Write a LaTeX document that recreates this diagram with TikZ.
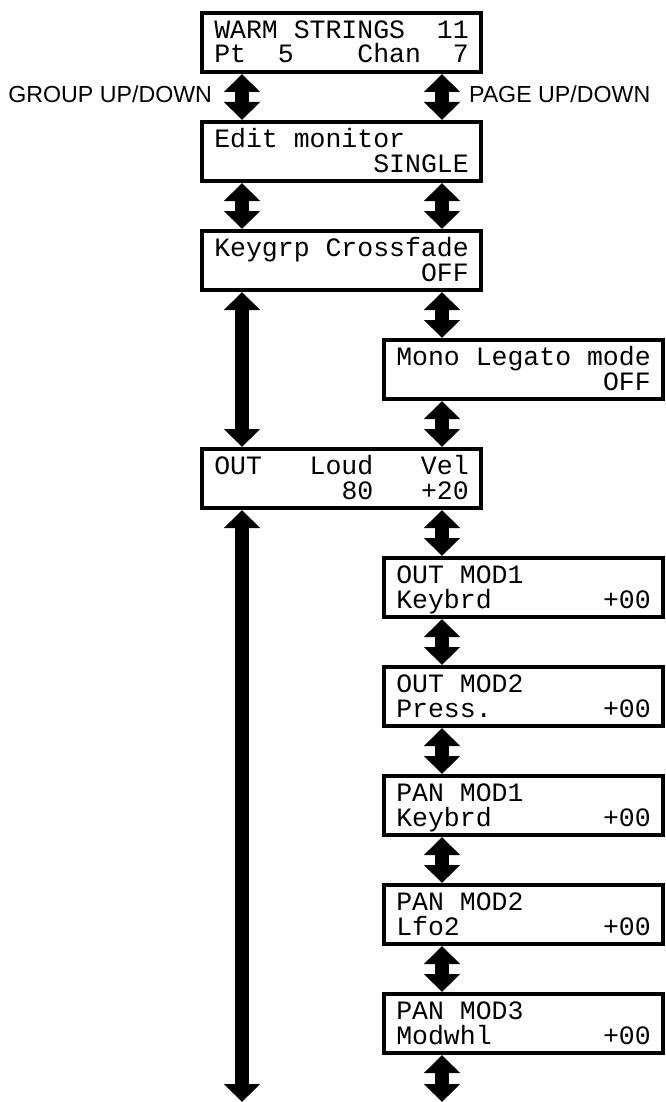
\documentclass[tikz,border=0pt]{standalone}
\usepackage{fontspec}
\setmonofont{Liberation Mono}
\setsansfont{Liberation Sans}
\usepackage{tikz}
\usetikzlibrary{
  arrows.meta,
  positioning,
  calc
}
\definecolor{lcdink}{RGB}{0,0,0}
\definecolor{lcdback}{RGB}{255,255,255}
\newcommand{\lcdtext}[2]{\vbox{\frenchspacing\baselineskip=12.5pt\lineskiplimit=-50pt\hbox{#1}\hbox{#2}}}

\begin{document}
\begin{tikzpicture}[
  lcd/.style={rectangle, draw=lcdink, fill=lcdback, line width=2pt, minimum width=139.5pt, minimum height=29.5pt,
    inner sep=0pt, text height=21.5pt, text depth=1pt, font=\ttfamily\fontsize{13.25pt}{12.5pt}\selectfont},
  updown/.style={draw=lcdink, line width=7pt, {Triangle[width=17.5pt,length=9pt]}-{Triangle[width=17.5pt,length=9pt]}},
  keylabel/.style={inner sep=0pt, outer sep=0pt, yshift=1.5pt, text=lcdink, font=\sffamily\fontsize{11.6pt}{14pt}\selectfont}
]
  \useasboundingbox (0,0) rectangle (332.5pt,-551pt);
  \coordinate (lx) at (121pt,0);
  \coordinate (rx) at (221pt,0);
  \coordinate (bot) at (0,-551pt);

  % upper column
  \node[lcd, anchor=north west] (warm) at (100pt,-5.5pt) {\lcdtext{WARM~STRINGS~~11}{Pt~~5~~~~Chan~~7}};
  \node[lcd, below=23pt of warm] (edit) {\lcdtext{Edit~monitor}{~~~~~~~~~~SINGLE}};
  \node[lcd, below=23pt of edit] (keygrp) {\lcdtext{Keygrp~Crossfade}{~~~~~~~~~~~~~OFF}};
  \node[lcd, below=23pt of keygrp, xshift=91pt] (mono) {\lcdtext{Mono~Legato~mode}{~~~~~~~~~~~~~OFF}};
  \node[lcd, below=23pt of mono, xshift=-91pt] (out) {\lcdtext{OUT~~~Loud~~~Vel}{~~~~~~~~80~~~+20}};

  % modulation pages
  \node[lcd, below=23pt of out, xshift=91pt] (outone) {\lcdtext{OUT~MOD1}{Keybrd~~~~~~~+00}};
  \node[lcd, below=23pt of outone] (outtwo) {\lcdtext{OUT~MOD2}{Press.~~~~~~~+00}};
  \node[lcd, below=23pt of outtwo] (panone) {\lcdtext{PAN~MOD1}{Keybrd~~~~~~~+00}};
  \node[lcd, below=23pt of panone] (pantwo) {\lcdtext{PAN~MOD2}{Lfo2~~~~~~~~~+00}};
  \node[lcd, below=23pt of pantwo] (panthree) {\lcdtext{PAN~MOD3}{Modwhl~~~~~~~+00}};

  % group arrows
  \draw[updown] (warm.south -| lx) -- node[keylabel, left=15pt] {GROUP UP/DOWN} (edit.north -| lx);
  \draw[updown] (edit.south -| lx) -- (keygrp.north -| lx);
  \draw[updown] (keygrp.south -| lx) -- (out.north -| lx);
  \draw[updown] (out.south -| lx) -- (bot -| lx);

  % page arrows
  \draw[updown] (warm.south -| rx) -- node[keylabel, right=13.5pt] {PAGE UP/DOWN} (edit.north -| rx);
  \draw[updown] (edit.south -| rx) -- (keygrp.north -| rx);
  \draw[updown] (keygrp.south -| rx) -- (mono.north -| rx);
  \draw[updown] (mono.south -| rx) -- (out.north -| rx);
  \draw[updown] (out.south -| rx) -- (outone.north -| rx);
  \draw[updown] (outone.south -| rx) -- (outtwo.north -| rx);
  \draw[updown] (outtwo.south -| rx) -- (panone.north -| rx);
  \draw[updown] (panone.south -| rx) -- (pantwo.north -| rx);
  \draw[updown] (pantwo.south -| rx) -- (panthree.north -| rx);
  \draw[updown] (panthree.south -| rx) -- (bot -| rx);
\end{tikzpicture}
\end{document}
